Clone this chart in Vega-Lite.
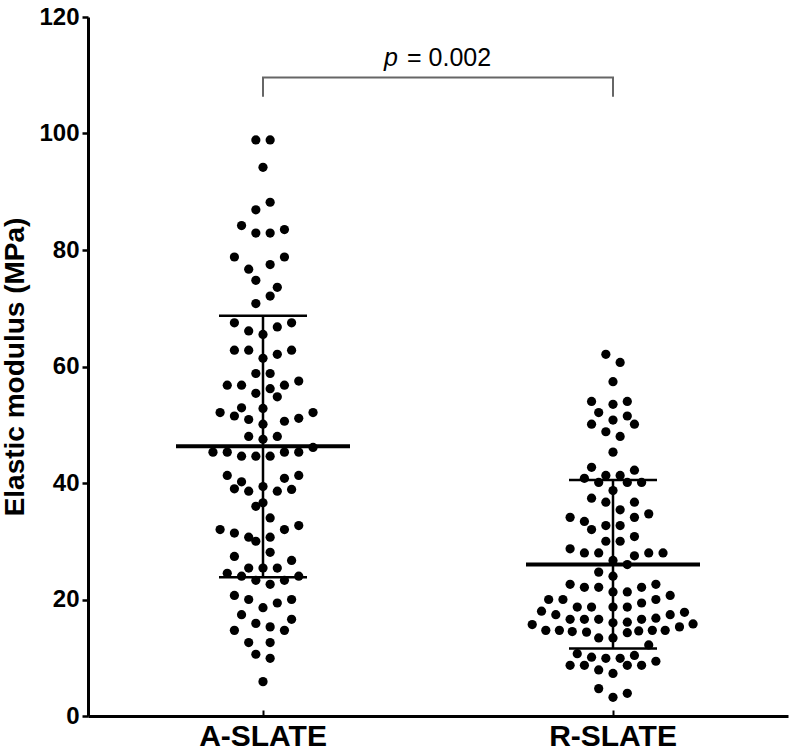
{
  "$schema": "https://vega.github.io/schema/vega-lite/v6.json",
  "width": 700,
  "height": 699,
  "autosize": {"type": "none"},
  "padding": {"left": 88, "top": 17, "right": 7, "bottom": 35},
  "background": "white",
  "config": {
    "view": {"stroke": null},
    "font": "Liberation Sans",
    "axis": {"grid": false, "domainColor": "black", "tickColor": "black", "labelColor": "black", "titleColor": "black", "labelFont": "Liberation Sans", "titleFont": "Liberation Sans", "labelFontWeight": "bold", "titleFontWeight": "bold"}
  },
  "datasets": {
    "pts": [
      {"g":"A-SLATE","j":-1,"v":98.9},{"g":"A-SLATE","j":1,"v":98.9},{"g":"A-SLATE","j":0,"v":94.2},{"g":"A-SLATE","j":1,"v":88.2},{"g":"A-SLATE","j":-1,"v":86.9},{"g":"A-SLATE","j":-3,"v":84.2},{"g":"A-SLATE","j":-1,"v":82.9},{"g":"A-SLATE","j":1,"v":82.9},{"g":"A-SLATE","j":3,"v":83.5},{"g":"A-SLATE","j":-4,"v":78.8},{"g":"A-SLATE","j":-2,"v":76.7},{"g":"A-SLATE","j":1,"v":77.5},{"g":"A-SLATE","j":3,"v":78.8},
      {"g":"A-SLATE","j":-1,"v":74.8},{"g":"A-SLATE","j":2,"v":73.6},{"g":"A-SLATE","j":1,"v":72.1},{"g":"A-SLATE","j":-1,"v":70.8},{"g":"A-SLATE","j":-4,"v":67.5},{"g":"A-SLATE","j":-2,"v":66.1},{"g":"A-SLATE","j":0,"v":65.5},{"g":"A-SLATE","j":2,"v":66.8},{"g":"A-SLATE","j":4,"v":67.5},{"g":"A-SLATE","j":-4,"v":62.8},{"g":"A-SLATE","j":-2,"v":62.8},{"g":"A-SLATE","j":0,"v":61.4},{"g":"A-SLATE","j":2,"v":62.1},{"g":"A-SLATE","j":4,"v":62.8},{"g":"A-SLATE","j":-1,"v":58.8},{"g":"A-SLATE","j":1,"v":58.8},{"g":"A-SLATE","j":-5,"v":56.8},{"g":"A-SLATE","j":-3,"v":56.8},{"g":"A-SLATE","j":-1,"v":55.4},{"g":"A-SLATE","j":1,"v":56.2},{"g":"A-SLATE","j":3,"v":56.8},{"g":"A-SLATE","j":5,"v":57.5},{"g":"A-SLATE","j":2,"v":54.8},{"g":"A-SLATE","j":-3,"v":52.9},{"g":"A-SLATE","j":0,"v":52.8},{"g":"A-SLATE","j":-6,"v":52.1},{"g":"A-SLATE","j":-4,"v":51.5},{"g":"A-SLATE","j":-2,"v":50.9},{"g":"A-SLATE","j":5,"v":51.1},{"g":"A-SLATE","j":7,"v":52.1},{"g":"A-SLATE","j":3,"v":50.6},{"g":"A-SLATE","j":0,"v":50.1},
      {"g":"A-SLATE","j":-2,"v":48.0},{"g":"A-SLATE","j":2,"v":48.0},{"g":"A-SLATE","j":0,"v":47.5},{"g":"A-SLATE","j":7,"v":46.1},{"g":"A-SLATE","j":-7,"v":45.3},{"g":"A-SLATE","j":-5,"v":45.3},{"g":"A-SLATE","j":-3,"v":44.6},{"g":"A-SLATE","j":-1,"v":44.6},{"g":"A-SLATE","j":1,"v":44.6},{"g":"A-SLATE","j":3,"v":45.3},{"g":"A-SLATE","j":5,"v":45.3},{"g":"A-SLATE","j":-5,"v":41.3},{"g":"A-SLATE","j":-3,"v":40.2},{"g":"A-SLATE","j":-4,"v":39.0},{"g":"A-SLATE","j":-2,"v":38.6},{"g":"A-SLATE","j":0,"v":39.4},{"g":"A-SLATE","j":2,"v":38.6},{"g":"A-SLATE","j":4,"v":38.9},{"g":"A-SLATE","j":3,"v":40.8},{"g":"A-SLATE","j":5,"v":41.3},{"g":"A-SLATE","j":-1,"v":36.0},{"g":"A-SLATE","j":0,"v":36.6},{"g":"A-SLATE","j":1,"v":34.0},{"g":"A-SLATE","j":-6,"v":32.0},{"g":"A-SLATE","j":-4,"v":31.4},{"g":"A-SLATE","j":-2,"v":30.7},{"g":"A-SLATE","j":-1,"v":30.0},{"g":"A-SLATE","j":1,"v":30.7},{"g":"A-SLATE","j":3,"v":32.0},{"g":"A-SLATE","j":5,"v":32.7},{"g":"A-SLATE","j":-4,"v":27.4},{"g":"A-SLATE","j":1,"v":28.1},{"g":"A-SLATE","j":4,"v":26.7},
      {"g":"A-SLATE","j":-2,"v":25.4},{"g":"A-SLATE","j":0,"v":25.4},{"g":"A-SLATE","j":2,"v":25.4},{"g":"A-SLATE","j":-5,"v":24.5},{"g":"A-SLATE","j":-3,"v":24.0},{"g":"A-SLATE","j":-1,"v":23.3},{"g":"A-SLATE","j":1,"v":22.6},{"g":"A-SLATE","j":3,"v":23.3},{"g":"A-SLATE","j":5,"v":24.0},{"g":"A-SLATE","j":-4,"v":20.7},{"g":"A-SLATE","j":-2,"v":20.0},{"g":"A-SLATE","j":0,"v":18.6},{"g":"A-SLATE","j":2,"v":19.4},{"g":"A-SLATE","j":4,"v":20.0},{"g":"A-SLATE","j":-3,"v":17.4},{"g":"A-SLATE","j":-1,"v":15.9},{"g":"A-SLATE","j":1,"v":15.3},{"g":"A-SLATE","j":4,"v":16.6},{"g":"A-SLATE","j":-4,"v":14.7},{"g":"A-SLATE","j":3,"v":14.7},{"g":"A-SLATE","j":-2,"v":12.6},{"g":"A-SLATE","j":1,"v":12.6},{"g":"A-SLATE","j":-1,"v":10.6},{"g":"A-SLATE","j":1,"v":9.9},{"g":"A-SLATE","j":0,"v":5.9},
      {"g":"R-SLATE","j":-1,"v":62.1},{"g":"R-SLATE","j":1,"v":60.7},{"g":"R-SLATE","j":0,"v":57.4},{"g":"R-SLATE","j":-3,"v":54.0},{"g":"R-SLATE","j":0,"v":53.5},{"g":"R-SLATE","j":2,"v":54.0},{"g":"R-SLATE","j":-2,"v":52.1},{"g":"R-SLATE","j":2,"v":51.5},{"g":"R-SLATE","j":-3,"v":50.1},{"g":"R-SLATE","j":0,"v":50.8},{"g":"R-SLATE","j":3,"v":50.1},{"g":"R-SLATE","j":-1,"v":48.8},{"g":"R-SLATE","j":1,"v":48.0},{"g":"R-SLATE","j":0,"v":45.3},{"g":"R-SLATE","j":-3,"v":42.7},
      {"g":"R-SLATE","j":3,"v":42.2},{"g":"R-SLATE","j":-1,"v":41.3},{"g":"R-SLATE","j":1,"v":41.3},{"g":"R-SLATE","j":-4,"v":40.8},{"g":"R-SLATE","j":-2,"v":40.1},{"g":"R-SLATE","j":2,"v":40.1},{"g":"R-SLATE","j":4,"v":40.1},{"g":"R-SLATE","j":0,"v":38.7},{"g":"R-SLATE","j":-3,"v":37.4},{"g":"R-SLATE","j":-1,"v":36.7},{"g":"R-SLATE","j":3,"v":36.7},{"g":"R-SLATE","j":1,"v":35.4},{"g":"R-SLATE","j":-6,"v":34.1},{"g":"R-SLATE","j":-4,"v":33.4},{"g":"R-SLATE","j":-3,"v":32.0},{"g":"R-SLATE","j":-1,"v":32.7},{"g":"R-SLATE","j":1,"v":32.7},{"g":"R-SLATE","j":3,"v":34.1},{"g":"R-SLATE","j":5,"v":34.7},{"g":"R-SLATE","j":-1,"v":30.0},{"g":"R-SLATE","j":1,"v":30.0},{"g":"R-SLATE","j":3,"v":30.8},{"g":"R-SLATE","j":-6,"v":28.7},{"g":"R-SLATE","j":-4,"v":28.0},{"g":"R-SLATE","j":-2,"v":28.0},{"g":"R-SLATE","j":0,"v":26.7},{"g":"R-SLATE","j":3,"v":27.5},{"g":"R-SLATE","j":5,"v":28.0},{"g":"R-SLATE","j":7,"v":28.0},{"g":"R-SLATE","j":2,"v":26.0},{"g":"R-SLATE","j":-2,"v":24.7},{"g":"R-SLATE","j":0,"v":24.0},
      {"g":"R-SLATE","j":-6,"v":22.6},{"g":"R-SLATE","j":-4,"v":22.1},{"g":"R-SLATE","j":-2,"v":22.1},{"g":"R-SLATE","j":0,"v":21.3},{"g":"R-SLATE","j":2,"v":21.3},{"g":"R-SLATE","j":4,"v":22.1},{"g":"R-SLATE","j":6,"v":22.6},{"g":"R-SLATE","j":-9,"v":20.0},{"g":"R-SLATE","j":-7,"v":20.0},{"g":"R-SLATE","j":-5,"v":18.7},{"g":"R-SLATE","j":-3,"v":18.7},{"g":"R-SLATE","j":0,"v":18.7},{"g":"R-SLATE","j":2,"v":18.7},{"g":"R-SLATE","j":4,"v":19.4},{"g":"R-SLATE","j":6,"v":20.0},{"g":"R-SLATE","j":8,"v":20.7},{"g":"R-SLATE","j":-10,"v":18.0},{"g":"R-SLATE","j":-8,"v":17.4},{"g":"R-SLATE","j":-6,"v":16.6},{"g":"R-SLATE","j":-4,"v":16.6},{"g":"R-SLATE","j":-2,"v":16.6},{"g":"R-SLATE","j":0,"v":16.0},{"g":"R-SLATE","j":2,"v":16.1},{"g":"R-SLATE","j":4,"v":16.6},{"g":"R-SLATE","j":6,"v":16.8},{"g":"R-SLATE","j":8,"v":17.4},{"g":"R-SLATE","j":10,"v":17.8},{"g":"R-SLATE","j":-11.3,"v":15.7},{"g":"R-SLATE","j":-9.4,"v":14.7},{"g":"R-SLATE","j":-7.5,"v":14.7},{"g":"R-SLATE","j":-5.7,"v":14.5},{"g":"R-SLATE","j":-3.7,"v":14.4},{"g":"R-SLATE","j":-2,"v":13.4},{"g":"R-SLATE","j":0,"v":13.4},{"g":"R-SLATE","j":2,"v":14.3},{"g":"R-SLATE","j":3.6,"v":14.6},{"g":"R-SLATE","j":5.5,"v":14.7},{"g":"R-SLATE","j":7.3,"v":14.7},{"g":"R-SLATE","j":9.3,"v":15.3},{"g":"R-SLATE","j":11.2,"v":15.8},{"g":"R-SLATE","j":5,"v":12.2},{"g":"R-SLATE","j":-5,"v":10.7},{"g":"R-SLATE","j":-3,"v":10.1},{"g":"R-SLATE","j":-1,"v":9.9},{"g":"R-SLATE","j":1,"v":9.9},{"g":"R-SLATE","j":3,"v":10.4},{"g":"R-SLATE","j":-6,"v":8.7},{"g":"R-SLATE","j":-4,"v":8.7},{"g":"R-SLATE","j":-2,"v":7.9},{"g":"R-SLATE","j":0,"v":7.3},{"g":"R-SLATE","j":2,"v":8.7},{"g":"R-SLATE","j":4,"v":8.7},{"g":"R-SLATE","j":6,"v":9.4},{"g":"R-SLATE","j":-2,"v":4.7},{"g":"R-SLATE","j":0,"v":3.2},{"g":"R-SLATE","j":2,"v":3.9}
    ],
    "stats": [
      {"g":"A-SLATE","mean":46.3,"lo":23.8,"hi":68.7},
      {"g":"R-SLATE","mean":26.0,"lo":11.6,"hi":40.5}
    ],
    "bracket": [
      {"g":"A-SLATE","o":1,"v":106.3},
      {"g":"A-SLATE","o":2,"v":109.6},
      {"g":"R-SLATE","o":3,"v":109.6},
      {"g":"R-SLATE","o":4,"v":106.3}
    ]
  },
  "encoding": {
    "x": {
      "field": "g", "type": "nominal",
      "scale": {"type": "band", "domain": ["A-SLATE", "R-SLATE"], "paddingInner": 0, "paddingOuter": 0},
      "axis": {"title": null, "labelAngle": 0, "labelFontSize": 30, "domainWidth": 3, "tickWidth": 2, "tickSize": -6, "labelPadding": 11}
    },
    "y": {
      "type": "quantitative",
      "scale": {"domain": [0, 120], "nice": false, "zero": true},
      "axis": {"title": "Elastic modulus (MPa)", "values": [0, 20, 40, 60, 80, 100, 120], "labelFontSize": 24, "titleFontSize": 28, "domainWidth": 3, "tickWidth": 2.5, "tickSize": 6, "labelPadding": 3, "titlePadding": 9}
    }
  },
  "layer": [
    {
      "data": {"name": "pts"},
      "mark": {"type": "circle", "size": 85, "opacity": 1, "color": "black"},
      "encoding": {
        "y": {"field": "v", "type": "quantitative"},
        "xOffset": {"field": "j", "type": "quantitative", "scale": {"domain": [-24.48, 24.48]}}
      }
    },
    {
      "data": {"name": "stats"},
      "mark": {"type": "rule", "color": "black", "strokeWidth": 2.5},
      "encoding": {"y": {"field": "lo", "type": "quantitative"}, "y2": {"field": "hi"}}
    },
    {
      "data": {"name": "stats"},
      "mark": {"type": "tick", "color": "black", "size": 88, "thickness": 2.5, "opacity": 1},
      "encoding": {"y": {"field": "hi", "type": "quantitative"}}
    },
    {
      "data": {"name": "stats"},
      "mark": {"type": "tick", "color": "black", "size": 88, "thickness": 2.5, "opacity": 1},
      "encoding": {"y": {"field": "lo", "type": "quantitative"}}
    },
    {
      "data": {"name": "stats"},
      "mark": {"type": "tick", "color": "black", "size": 174, "thickness": 4, "opacity": 1},
      "encoding": {"y": {"field": "mean", "type": "quantitative"}}
    },
    {
      "data": {"name": "bracket"},
      "mark": {"type": "line", "color": "#666666", "strokeWidth": 2},
      "encoding": {"y": {"field": "v", "type": "quantitative"}, "order": {"field": "o", "type": "quantitative"}}
    },
    {
      "data": {"values": [{"t": "p", "v": 113}]},
      "mark": {"type": "text", "fontStyle": "italic", "fontSize": 25, "align": "left", "baseline": "middle", "color": "black", "x": {"expr": "width/2"}, "dx": -54},
      "encoding": {"x": null, "y": {"field": "v", "type": "quantitative"}, "text": {"field": "t"}}
    },
    {
      "data": {"values": [{"t": "= 0.002", "v": 113}]},
      "mark": {"type": "text", "fontSize": 25, "align": "left", "baseline": "middle", "color": "black", "x": {"expr": "width/2"}, "dx": -31},
      "encoding": {"x": null, "y": {"field": "v", "type": "quantitative"}, "text": {"field": "t"}}
    }
  ]
}
